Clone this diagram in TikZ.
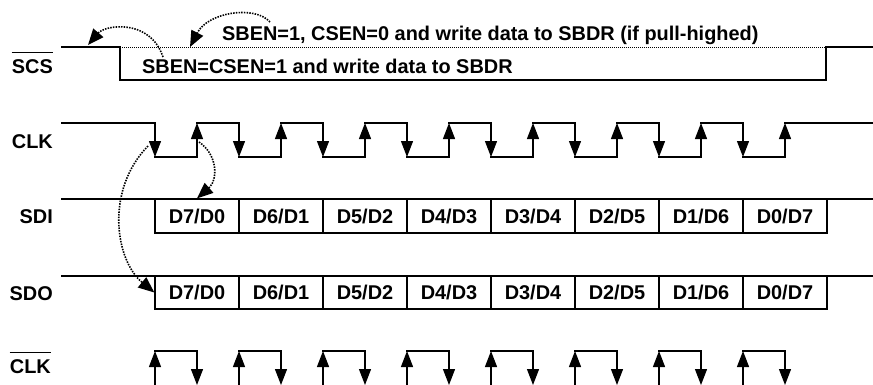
\documentclass[tikz,border=0pt]{standalone}
\usepackage{fontspec}
\setmainfont{Liberation Sans}
\usetikzlibrary{arrows.meta}
\begin{document}
\begin{tikzpicture}[x=1pt,y=-1pt,
  sig/.style={line width=1.3pt,line cap=rect},
  edgearrow/.style={line width=1.3pt,-{Triangle[length=16pt,width=12pt]}},
  txt/.style={font=\fontsize{19.9}{22}\selectfont\bfseries,inner sep=0pt},
  cell/.style={draw,line width=1.3pt,minimum width=84pt,inner sep=0pt,
    font=\fontsize{19.9}{22}\selectfont\bfseries},
  dots/.style={line width=1.6pt,dash pattern=on 1.5pt off 1.2pt,
    -{Triangle[length=16pt,width=13pt]}},
  ovl/.style={line width=1pt}]
\useasboundingbox (0,0) rectangle (873,384);

% labels
\node[txt,anchor=base east] (scs) at (53,73) {SCS};
\draw[ovl] ([yshift=6pt]scs.north west) -- ([yshift=6pt]scs.north east);
\node[txt,anchor=base east] (clk) at (53,148) {CLK};
\node[txt,anchor=base east] (sdi) at (53,223) {SDI};
\node[txt,anchor=base east] (sdo) at (53,300) {SDO};
\node[txt,anchor=base east] (clkb) at (51,373) {CLK};
\draw[ovl] ([yshift=6pt]clkb.north west) -- ([yshift=6pt]clkb.north east);

% SCS waveform
\draw[sig] (62,47) -- (120,47) -- (120,80) -- (826,80) -- (826,47) -- (873,47);
\draw[line width=1pt,dash pattern=on 1pt off 1pt] (120,47) -- (826,47);
\node[txt,anchor=base west] (t1) at (142,73) {SBEN=CSEN=1 and write data to SBDR};
\node[txt,anchor=base west] (t2) at (222,40) {SBEN=1, CSEN=0 and write data to SBDR (if pull-highed)};

% CLK waveform
\draw[sig] (62,123) -- (155,123);
\foreach \k in {0,...,7} {
  \pgfmathsetmacro\f{155+84*\k}
  \pgfmathsetmacro\r{197+84*\k}
  \pgfmathsetmacro\n{\r+42}
  \draw[edgearrow] (\f,123) -- (\f,157);
  \draw[sig] (\f,157) -- (\r,157);
  \draw[edgearrow] (\r,157) -- (\r,123);
  \ifnum\k<7 \draw[sig] (\r,123) -- (\n,123); \fi
}
\draw[sig] (785,123) -- (873,123);

% SDI / SDO
\draw[sig] (62,199) -- (873,199);
\draw[sig] (62,276) -- (873,276);
\foreach \k/\t in {0/D7\slash D0,1/D6\slash D1,2/D5\slash D2,3/D4\slash D3,4/D3\slash D4,5/D2\slash D5,6/D1\slash D6,7/D0\slash D7} {
  \node[cell,minimum height=34pt] (di\k) at (197+84*\k,216) {\t};
  \node[cell,minimum height=33pt] (do\k) at (197+84*\k,292.5) {\t};
}

% CLK bar waveform
\foreach \k in {0,...,7} {
  \pgfmathsetmacro\r{155+84*\k}
  \pgfmathsetmacro\f{197+84*\k}
  \draw[edgearrow] (\r,392) -- (\r,351);
  \draw[sig] (\r,351) -- (\f,351);
  \draw[edgearrow] (\f,351) -- (\f,385);
}

% dotted arrows
\coordinate (a1s) at (163,57);
\coordinate (a1e) at (88,45);
\coordinate (a2s) at (270,22);
\coordinate (a2e) at (190,47);
\coordinate (a3s) at (199,142);
\coordinate (a4s) at (148,146);
\draw[dots] (a1s) .. controls (150,18) and (105,25) .. (a1e);
\draw[dots] (a2s) .. controls (255,5) and (208,12) .. (a2e);
\draw[dots] (a3s) .. controls (218,155) and (218,180) .. (di0.north);
\draw[dots] (a4s) .. controls (105,190) and (115,260) .. (do0.west);
\end{tikzpicture}
\end{document}
